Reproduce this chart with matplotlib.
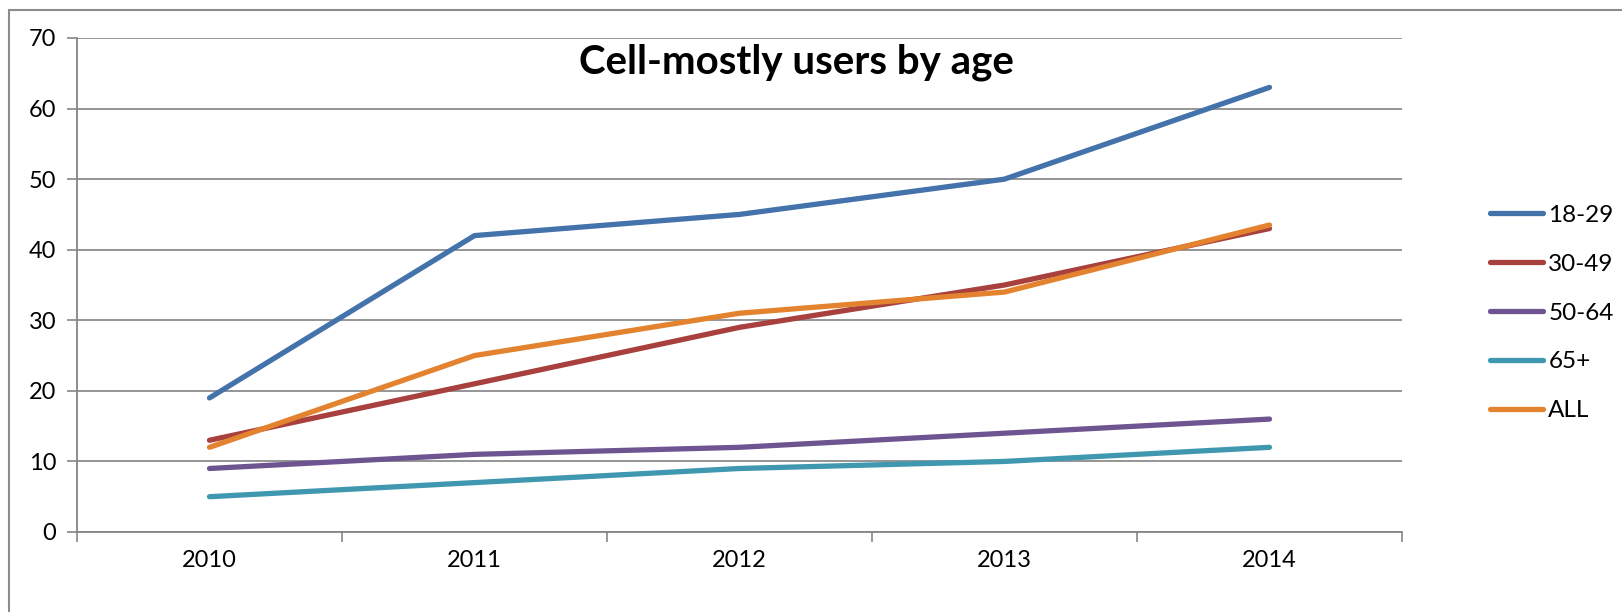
import matplotlib
matplotlib.use('Agg')
import matplotlib.pyplot as plt
from matplotlib.patches import Rectangle

years = ['2010', '2011', '2012', '2013', '2014']
series_names = ['18-29', '30-49', '50-64', '65+', 'ALL']
age_18_29 = [19, 42, 45, 50, 63]
age_30_49 = [13, 21, 29, 35, 43]
age_50_64 = [9, 11, 12, 14, 16]
age_65_up = [5, 7, 9, 10, 12]
age_all = [12, 25, 31, 34, 43.5]
colors = ['#4472AA', '#A8403D', '#6E5592', '#3F98AF', '#E3832F']

plt.rcParams['font.family'] = ['Lato', 'DejaVu Sans']

fig = plt.figure(figsize=(16.22, 6.12), dpi=100)
ax = fig.add_axes([77 / 1622, 1 - 532 / 612, (1402 - 77) / 1622, (532 - 38) / 612])

# outer chart border (runs off the right and bottom edges)
fig.patches.append(Rectangle((9 / 1622, -0.1), 1.2, 602 / 612 + 0.1,
                             transform=fig.transFigure, fill=False,
                             edgecolor='#8c8c8c', linewidth=1.5))

x = list(range(len(years)))
for vals, name, c in zip([age_18_29, age_30_49, age_50_64, age_65_up, age_all],
                         series_names, colors):
    ax.plot(x, vals, color=c, linewidth=3.8, solid_capstyle='round', label=name)

ax.set_xlim(-0.5, len(years) - 0.5)
ax.set_ylim(0, 70)
ax.set_yticks(range(0, 71, 10))
ax.set_xticks([i - 0.5 for i in range(len(years) + 1)])
ax.set_xticklabels([])
ax.set_xticks(x, minor=True)
ax.set_xticklabels(years, minor=True)
ax.tick_params(axis='x', which='minor', length=0, pad=13, labelsize=17)
ax.tick_params(axis='x', which='major', length=7, width=1.2, color='#868686', direction='out')
ax.tick_params(axis='y', length=7, width=1.2, color='#868686', direction='out', labelsize=17, pad=8)
ax.grid(axis='y', color='#8c8c8c', linewidth=1.3)
ax.set_axisbelow(True)
for s in ['top', 'right']:
    ax.spines[s].set_visible(False)
for s in ['left', 'bottom']:
    ax.spines[s].set_color('#868686')
    ax.spines[s].set_linewidth(1.3)

fig.text(796 / 1622, 1 - 62 / 612, 'Cell-mostly users by age', ha='center', va='center',
         fontsize=29, fontweight='bold')

fig.legend(loc='center left', bbox_to_anchor=(1490 / 1622, 1 - 313 / 612), frameon=False,
           borderaxespad=0, borderpad=0,
           fontsize=17.5, handlelength=2.2, handletextpad=0.2, labelspacing=1.15)

fig.savefig('out.png', dpi=100)
